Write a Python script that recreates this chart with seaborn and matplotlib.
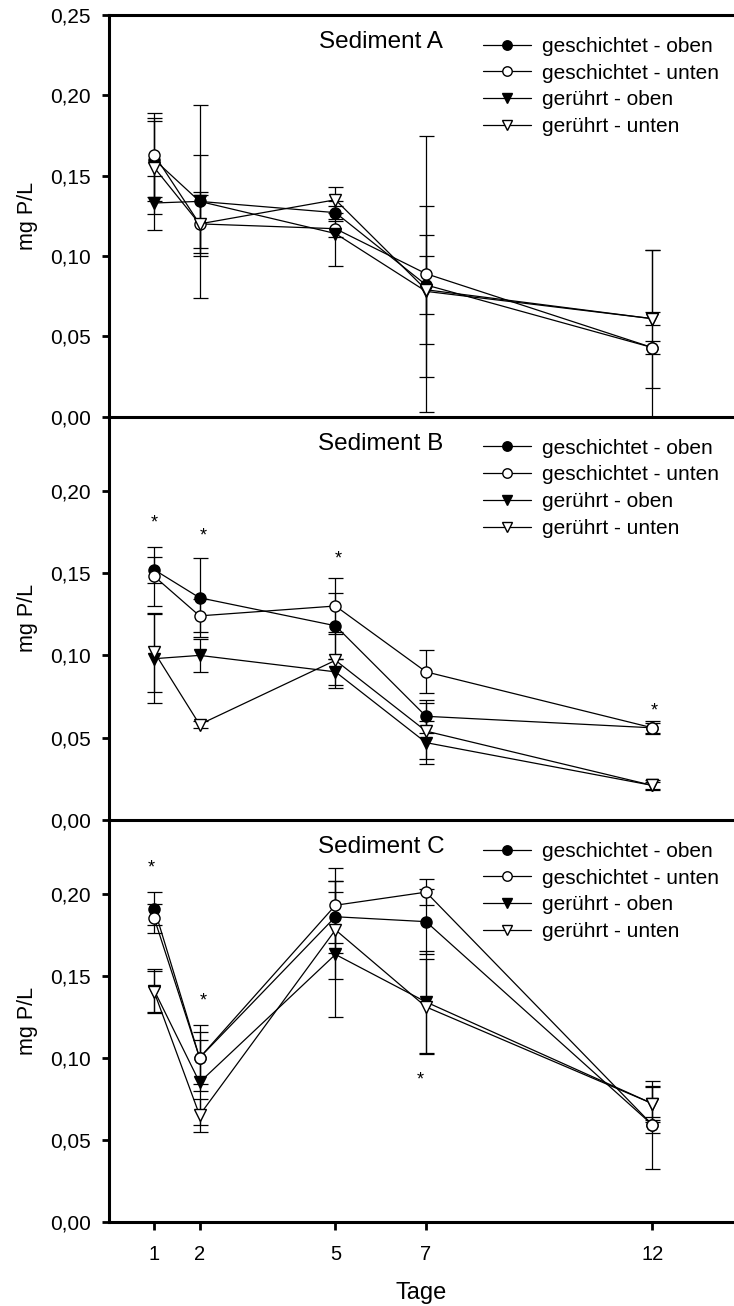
import numpy as np
import pandas as pd
import seaborn as sns
import matplotlib
matplotlib.use("Agg")
import matplotlib.pyplot as plt
from matplotlib.ticker import FuncFormatter

days = [1, 2, 5, 7, 12]
series = ["geschichtet - oben", "geschichtet - unten", "gerührt - oben", "gerührt - unten"]
panels = ["Sediment A", "Sediment B", "Sediment C"]

# Sediment A (mean, sd)
a_go = [0.160, 0.134, 0.127, 0.082, 0.043]
a_go_sd = [0.026, 0.029, 0.004, 0.018, 0.004]
a_gu = [0.163, 0.120, 0.117, 0.089, 0.043]
a_gu_sd = [0.026, 0.020, 0.005, 0.086, 0.061]
a_ro = [0.133, 0.134, 0.114, 0.078, 0.061]
a_ro_sd = [0.017, 0.060, 0.020, 0.053, 0.004]
a_ru = [0.155, 0.120, 0.135, 0.079, 0.061]
a_ru_sd = [0.029, 0.018, 0.008, 0.034, 0.043]

# Sediment B
b_go = [0.152, 0.135, 0.118, 0.063, 0.056]
b_go_sd = [0.008, 0.024, 0.020, 0.010, 0.004]
b_gu = [0.148, 0.124, 0.130, 0.090, 0.056]
b_gu_sd = [0.018, 0.010, 0.017, 0.013, 0.003]
b_ro = [0.098, 0.100, 0.090, 0.047, 0.021]
b_ro_sd = [0.027, 0.010, 0.008, 0.013, 0.003]
b_ru = [0.102, 0.058, 0.097, 0.054, 0.021]
b_ru_sd = [0.024, 0.002, 0.017, 0.017, 0.002]

# Sediment C
c_go = [0.191, 0.100, 0.186, 0.183, 0.059]
c_go_sd = [0.010, 0.020, 0.022, 0.020, 0.005]
c_gu = [0.185, 0.100, 0.193, 0.201, 0.059]
c_gu_sd = [0.009, 0.016, 0.023, 0.008, 0.027]
c_ro = [0.141, 0.085, 0.163, 0.134, 0.072]
c_ro_sd = [0.013, 0.026, 0.038, 0.031, 0.010]
c_ru = [0.140, 0.065, 0.178, 0.131, 0.072]
c_ru_sd = [0.013, 0.010, 0.030, 0.029, 0.011]

# significance stars (x, y)
stars_b = [(1.0, 0.183), (2.08, 0.175), (5.06, 0.161), (12.03, 0.069)]
stars_c = [(0.93, 0.218), (2.08, 0.137), (6.88, 0.089)]

yticks_a = [0.00, 0.05, 0.10, 0.15, 0.20, 0.25]
yticks_bc = [0.00, 0.05, 0.10, 0.15, 0.20]

means = {
    "Sediment A": [a_go, a_gu, a_ro, a_ru],
    "Sediment B": [b_go, b_gu, b_ro, b_ru],
    "Sediment C": [c_go, c_gu, c_ro, c_ru],
}
sds = {
    "Sediment A": [a_go_sd, a_gu_sd, a_ro_sd, a_ru_sd],
    "Sediment B": [b_go_sd, b_gu_sd, b_ro_sd, b_ru_sd],
    "Sediment C": [c_go_sd, c_gu_sd, c_ro_sd, c_ru_sd],
}
stars = {"Sediment A": [], "Sediment B": stars_b, "Sediment C": stars_c}
yticks = {"Sediment A": yticks_a, "Sediment B": yticks_bc, "Sediment C": yticks_bc}

rows = []
for p in panels:
    for s, m, e in zip(series, means[p], sds[p]):
        for d, v, sd in zip(days, m, e):
            rows.append({"panel": p, "series": s, "day": d, "mean": v, "sd": sd})
df = pd.DataFrame(rows)

styles = {
    "geschichtet - oben": ("o", "black"),
    "geschichtet - unten": ("o", "white"),
    "gerührt - oben": ("v", "black"),
    "gerührt - unten": ("v", "white"),
}

sns.set_theme(style="ticks")
plt.rcParams["font.family"] = ["Liberation Sans", "DejaVu Sans"]
plt.rcParams["text.color"] = "black"
plt.rcParams["axes.labelcolor"] = "black"

fig = plt.figure(figsize=(7.34, 13.06), dpi=100)
W, H = 734, 1306
left = 109 / W
tops = [15, 416.7, 820]
bots = [416.7, 820, 1221.7]
ytops = [0.25, 0.245, 0.245]

comma = FuncFormatter(lambda v, pos: f"{v:.2f}".replace(".", ","))

for i, p in enumerate(panels):
    h = bots[i] - tops[i]
    ax = fig.add_axes([left, 1 - bots[i] / H, 1 - left, h / H])
    ax.patch.set_alpha(0)
    sub = df[df.panel == p]
    for s in series:
        d = sub[sub.series == s]
        ax.errorbar(d["day"], d["mean"], yerr=d["sd"], fmt="none", ecolor="black",
                    elinewidth=0.9, capsize=5.4, capthick=0.9, zorder=2)
    for s in series:
        d = sub[sub.series == s]
        mk, fc = styles[s]
        sns.lineplot(data=d, x="day", y="mean", ax=ax, color="black", lw=0.9,
                     marker=mk, markersize=8, markerfacecolor=fc,
                     markeredgecolor="black", markeredgewidth=1.0,
                     estimator=None, label=s, zorder=3)
    for x, y in stars[p]:
        ax.annotate("*", (x, y), xytext=(0, -3), textcoords="offset points",
                    ha="center", va="center", fontsize=13)

    ax.set_xlim(0, 13.8)
    ax.set_ylim(0, ytops[i])
    ax.set_yticks(yticks[p])
    ax.yaxis.set_major_formatter(comma)
    ax.set_ylabel("mg P/L", fontsize=15.5)
    ax.yaxis.set_label_coords(-0.113, 0.5)
    ax.set_xticks(days)
    ax.text(0.435, 1 - 27 / h, p, transform=ax.transAxes,
            ha="center", va="center", fontsize=17.5)

    for sp in ["left", "bottom", "top"]:
        ax.spines[sp].set_linewidth(2.2)
        ax.spines[sp].set_color("black")
        ax.spines[sp].set_zorder(5)
    ax.spines["right"].set_visible(False)
    if i > 0:
        ax.spines["top"].set_visible(False)
    ax.tick_params(axis="y", direction="out", length=5.3, width=2, labelsize=15,
                   pad=8, colors="black")
    if i < 2:
        ax.tick_params(axis="x", bottom=False, labelbottom=False)
        ax.set_xlabel("")
    else:
        ax.tick_params(axis="x", direction="out", length=5.5, width=2,
                       labelsize=14.5, pad=11, colors="black")
        ax.set_xlabel("Tage", fontsize=17)
        ax.xaxis.set_label_coords(0.5, -0.15)
        ax.xaxis.label.set_va("top")

    ax.legend(loc="upper left", bbox_to_anchor=(0.598, 1 - 22 / h),
              frameon=False, fontsize=15, handlelength=2.3, handletextpad=0.55,
              labelspacing=0.37, borderpad=0, borderaxespad=0, markerscale=0.85)

fig.savefig("out.png", dpi=100)
